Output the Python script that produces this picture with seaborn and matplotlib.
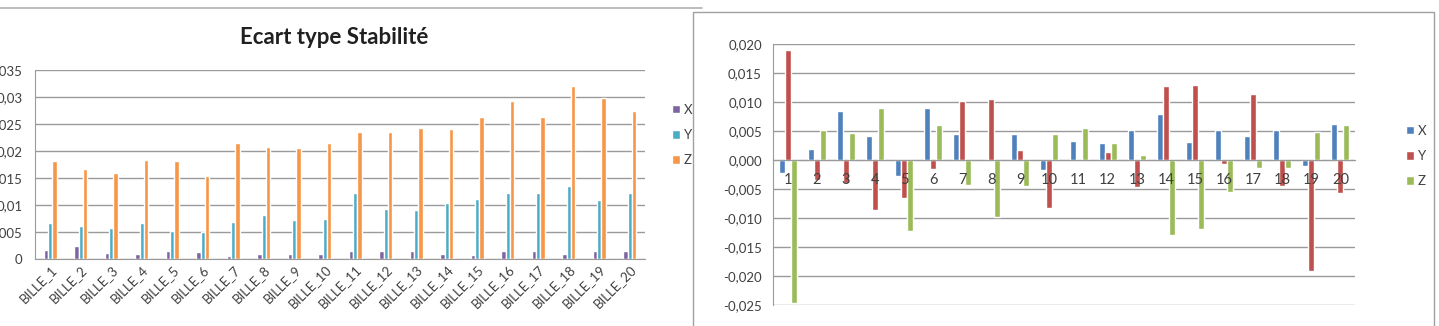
import numpy as np
import pandas as pd
import matplotlib
matplotlib.use("Agg")
import matplotlib.pyplot as plt
import seaborn as sns
from matplotlib.patches import Rectangle
from matplotlib.lines import Line2D
from matplotlib.ticker import FuncFormatter, FixedLocator

# ---- data ----
billes = [f"BILLE_{i}" for i in range(1, 21)]
std_x = [0.0016, 0.0025, 0.0012, 0.0010, 0.0014, 0.0013, 0.0006, 0.0010, 0.0010, 0.0010,
         0.0014, 0.0015, 0.0014, 0.0009, 0.0008, 0.0014, 0.0014, 0.0010, 0.0014, 0.0015]
std_y = [0.0067, 0.0062, 0.0057, 0.0067, 0.0051, 0.0050, 0.0068, 0.0081, 0.0072, 0.0074,
         0.0123, 0.0093, 0.0091, 0.0104, 0.0112, 0.0123, 0.0122, 0.0136, 0.0109, 0.0122]
std_z = [0.0182, 0.0167, 0.0160, 0.0184, 0.0181, 0.0154, 0.0214, 0.0208, 0.0205, 0.0214,
         0.0236, 0.0235, 0.0243, 0.0240, 0.0263, 0.0292, 0.0263, 0.0320, 0.0299, 0.0274]

points = [str(i) for i in range(1, 21)]
dev_x = [-0.0022, 0.0019, 0.0085, 0.0041, -0.0028, 0.0089, 0.0044, 0.0000, 0.0044, -0.0018,
         0.0033, 0.0029, 0.0051, 0.0080, 0.0031, 0.0051, 0.0041, 0.0052, -0.0011, 0.0062]
dev_y = [0.0190, -0.0034, -0.0040, -0.0086, -0.0066, -0.0016, 0.0102, 0.0105, 0.0017, -0.0083,
         0.0000, 0.0014, -0.0046, 0.0128, 0.0130, -0.0007, 0.0114, -0.0044, -0.0191, -0.0057]
dev_z = [-0.0247, 0.0051, 0.0047, 0.0090, -0.0122, 0.0061, -0.0043, -0.0098, -0.0044, 0.0045,
         0.0055, 0.0029, 0.0009, -0.0129, -0.0119, -0.0055, -0.0013, -0.0013, 0.0049, 0.0060]

left_colors = ["#7E64A2", "#4BACC6", "#F79646"]
right_colors = ["#4F81BD", "#C0504D", "#9BBB59"]

sns.set_style("white")
plt.rcParams["font.family"] = ["Lato", "DejaVu Sans"]
plt.rcParams["axes.axisbelow"] = False

df_std = pd.DataFrame({
    "bille": billes * 3,
    "axe": ["X"] * 20 + ["Y"] * 20 + ["Z"] * 20,
    "val": std_x + std_y + std_z,
})
df_dev = pd.DataFrame({
    "point": points * 3,
    "axe": ["X"] * 20 + ["Y"] * 20 + ["Z"] * 20,
    "val": dev_x + dev_y + dev_z,
})

W, H = 1439, 326
fig = plt.figure(figsize=(W / 100, H / 100), dpi=100)
fig.patch.set_facecolor("white")

grid_col = "#9a9a9a"
text_col = "#404040"


def hgrid(ax, values):
    # grid behind the bars, while tick labels stay on top of them
    for v in values:
        ax.axhline(v, color=grid_col, linewidth=1.0, zorder=0.5)


# ============ left chart: standard deviation ============
ax1 = fig.add_axes([35 / W, 67 / H, 610 / W, 189 / H])
sns.barplot(data=df_std, x="bille", y="val", hue="axe", palette=left_colors,
            width=0.42, saturation=1, ax=ax1)
yt1 = np.arange(0, 0.0351, 0.005)
ax1.set_ylim(0, 0.035)
ax1.set_xlim(-0.5, 19.5)
ax1.yaxis.set_major_locator(FixedLocator(yt1))
ax1.yaxis.set_major_formatter(FuncFormatter(
    lambda v, p: "0" if abs(v) < 1e-9 else f"{v:.3f}".rstrip("0").replace(".", ",")))
hgrid(ax1, yt1)
for s in ["top", "right"]:
    ax1.spines[s].set_visible(False)
ax1.spines["left"].set_color(grid_col)
ax1.spines["bottom"].set_color(grid_col)
ax1.set_xlabel("")
ax1.set_ylabel("")
ax1.tick_params(axis="y", length=0, pad=9, labelsize=9.5, labelcolor=text_col)
ax1.tick_params(axis="x", length=0, pad=3, labelsize=9.5, labelcolor=text_col)
plt.setp(ax1.get_xticklabels(), rotation=45, ha="right", rotation_mode="anchor")
ax1.set_title("Ecart type Stabilité", fontsize=16, fontweight="bold", color="#202020",
              x=0.49, pad=19)
sns.move_legend(ax1, "center left", bbox_to_anchor=(660 / W, 191 / H),
                bbox_transform=fig.transFigure, frameon=False, title=None,
                handlelength=0.6, handleheight=0.6, handletextpad=0.3,
                labelspacing=1.0, fontsize=9.5, labelcolor=text_col)

# ============ right chart: deviations ============
ax2 = fig.add_axes([773 / W, 21 / H, 582 / W, 261 / H])
sns.barplot(data=df_dev, x="point", y="val", hue="axe", palette=right_colors,
            width=0.62, saturation=1, ax=ax2)
yt2 = np.arange(-0.025, 0.0201, 0.005)
ax2.set_ylim(-0.025, 0.020)
ax2.set_xlim(-0.5, 19.5)
ax2.yaxis.set_major_locator(FixedLocator(yt2))
ax2.yaxis.set_major_formatter(FuncFormatter(lambda v, p: f"{v:.3f}".replace(".", ",")))
hgrid(ax2, yt2)
for s in ["top", "right"]:
    ax2.spines[s].set_visible(False)
ax2.spines["left"].set_color(grid_col)
ax2.spines["bottom"].set_color(grid_col)
ax2.spines["bottom"].set_position(("data", 0))
ax2.set_xlabel("")
ax2.set_ylabel("")
ax2.xaxis.set_minor_locator(FixedLocator(np.arange(-0.5, 20, 1)))
ax2.tick_params(axis="x", which="major", length=0, pad=9, labelsize=10.5, labelcolor=text_col)
ax2.tick_params(axis="x", which="minor", length=3, color=grid_col, direction="out")
ax2.tick_params(axis="y", length=4, color=grid_col, pad=4, labelsize=9.5, labelcolor=text_col)
sns.move_legend(ax2, "center left", bbox_to_anchor=(1394 / W, 170 / H),
                bbox_transform=fig.transFigure, frameon=False, title=None,
                handlelength=0.6, handleheight=0.6, handletextpad=0.3,
                labelspacing=1.0, fontsize=9.5, labelcolor=text_col)
for ax in (ax1, ax2):
    ax.set_axisbelow(False)

# chart frames
fig.add_artist(Line2D([0, 702 / W], [1 - 8 / H, 1 - 8 / H], transform=fig.transFigure,
                      color="#b0b0b0", linewidth=1.2))
fig.add_artist(Rectangle((693 / W, -0.01), (1434 - 693) / W, 1 - 12 / H + 0.01,
                         transform=fig.transFigure, fill=False,
                         edgecolor="#a0a0a0", linewidth=1.0))

fig.savefig("out.png", dpi=100)
